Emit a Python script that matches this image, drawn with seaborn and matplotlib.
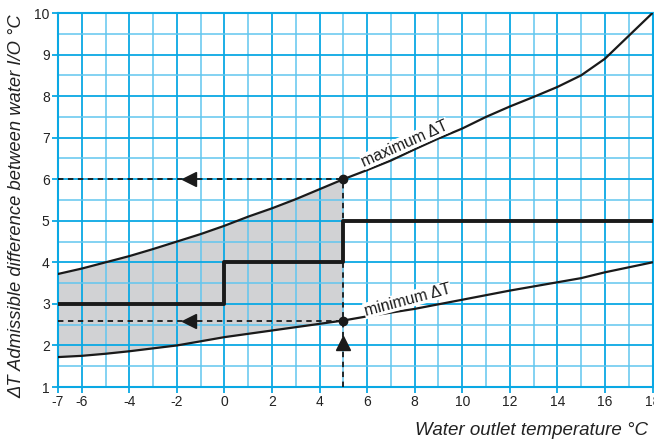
import numpy as np
import pandas as pd
import matplotlib
matplotlib.use("Agg")
import matplotlib.pyplot as plt
import seaborn as sns

# ---- data ----
max_x = [-7, -6, -5, -4, -3, -2, -1, 0, 1, 2, 3, 4, 5, 6, 7, 8, 9, 10, 11, 12, 13, 14, 15, 16, 17, 18]
max_y = [3.72, 3.85, 4.0, 4.15, 4.32, 4.5, 4.68, 4.88, 5.1, 5.3, 5.52, 5.76, 6.0, 6.22, 6.45, 6.72,
         6.98, 7.22, 7.5, 7.75, 7.98, 8.22, 8.5, 8.9, 9.45, 10.0]
min_x = [-7, -6, -5, -4, -3, -2, -1, 0, 1, 2, 3, 4, 5, 6, 8, 10, 12, 14, 15, 16, 17, 18]
min_y = [1.72, 1.75, 1.8, 1.86, 1.93, 2.0, 2.1, 2.2, 2.28, 2.36, 2.44, 2.52, 2.6, 2.7, 2.88, 3.1,
         3.32, 3.52, 3.62, 3.76, 3.88, 4.0]
step_x = [-7, 0, 5, 18]
step_y = [3, 4, 5, 5]
op_x = 5            # operating outlet temperature
op_max = 6.0        # max dT at operating point
op_min = 2.6        # min dT at operating point
arrow_x = -1.5      # position of left-pointing arrowheads
arrow_up_y = 2.05   # position of upward arrowhead

xticks = [-7, -6, -4, -2, 0, 2, 4, 6, 8, 10, 12, 14, 16, 18]
yticks = [1, 2, 3, 4, 5, 6, 7, 8, 9, 10]
xlabel = "Water outlet temperature °C"
ylabel = "ΔT Admissible difference between water I/O °C"
max_label = "maximum ΔT"
min_label = "minimum ΔT"

sns.set_style("white")
plt.rcParams["font.family"] = ["Liberation Sans", "DejaVu Sans"]

BLUE = "#0aa8e4"
LBLUE = "#62c6ef"
GRAY = "#d1d2d4"

fig = plt.figure(figsize=(6.54, 4.40), dpi=100)
ax = fig.add_axes([58 / 654, 1 - 387 / 440, 594.5 / 654, 374 / 440])

df_max = pd.DataFrame({"x": max_x, "y": max_y})
df_min = pd.DataFrame({"x": min_x, "y": min_y})

# shaded admissible region up to the operating point
xs = np.array(max_x)
mask = xs <= op_x
lo = np.interp(xs[mask], min_x, min_y)
ax.fill_between(xs[mask], lo, np.array(max_y)[mask], color=GRAY, zorder=1, lw=0)

# grid
for gx in range(-7, 19):
    ax.axvline(gx, color=BLUE if gx % 2 == 0 else LBLUE, lw=1.3 if gx % 2 == 0 else 1.1, zorder=1.5)
for gy in np.arange(1, 10.01, 0.5):
    ax.axhline(gy, color=BLUE if gy % 1 == 0 else LBLUE, lw=1.3 if gy % 1 == 0 else 1.1, zorder=1.5)

sns.lineplot(data=df_max, x="x", y="y", ax=ax, color="#1a1a1a", lw=1.6, zorder=3, sort=False)
sns.lineplot(data=df_min, x="x", y="y", ax=ax, color="#1a1a1a", lw=1.6, zorder=3, sort=False)
ax.step(step_x, step_y, where="post", color="#1a1a1a", lw=2.8, zorder=3.5)

# dashed guide lines
dash = dict(color="#1a1a1a", lw=1.3, ls=(0, (3, 2.5)), zorder=3)
ax.plot([-7, op_x], [op_max, op_max], **dash)
ax.plot([-7, op_x], [op_min, op_min], **dash)
ax.plot([op_x, op_x], [1, op_max], **dash)
ax.plot([arrow_x, arrow_x], [op_max, op_min], ls="none", marker="<", ms=10, color="#1a1a1a", zorder=4)
ax.plot([op_x], [arrow_up_y], ls="none", marker="^", ms=10, color="#1a1a1a", zorder=4)
ax.plot([op_x, op_x], [op_max, op_min], ls="none", marker="o", ms=6, color="#1a1a1a", zorder=4)

ax.text(7.6, 6.86, max_label, rotation=24, ha="center", va="center", fontsize=11.5, color="#1a1a1a",
        bbox=dict(fc="white", ec="none", pad=0.5), zorder=5, rotation_mode="anchor")
ax.text(7.7, 3.1, min_label, rotation=15, ha="center", va="center", fontsize=11.5, color="#1a1a1a",
        bbox=dict(fc="white", ec="none", pad=0.5), zorder=5, rotation_mode="anchor")

ax.set_xlim(-7, 18)
ax.set_ylim(1, 10)
ax.set_xticks(xticks)
ax.set_yticks(yticks)
ax.set_xticklabels([str(t) for t in xticks])
ax.set_yticklabels([str(t) for t in yticks])
ax.tick_params(axis="both", length=4, width=1.3, color=BLUE, labelsize=10, pad=2, labelcolor="#222222")
ax.tick_params(axis="x", bottom=True)
ax.tick_params(axis="y", left=True)
for s in ax.spines.values():
    s.set_color(BLUE)
    s.set_linewidth(1.5)
    s.set_visible(True)
ax.set_xlabel("")
ax.set_ylabel("")

fig.text(648 / 654, 1 - 430 / 440, xlabel, ha="right", va="center", fontsize=13.5, style="italic", color="#222222")
fig.text(17 / 654, 1 - 206 / 440, ylabel, ha="center", va="center", rotation=90, fontsize=13.2,
         style="italic", color="#222222")

fig.savefig("out.png", dpi=100)
